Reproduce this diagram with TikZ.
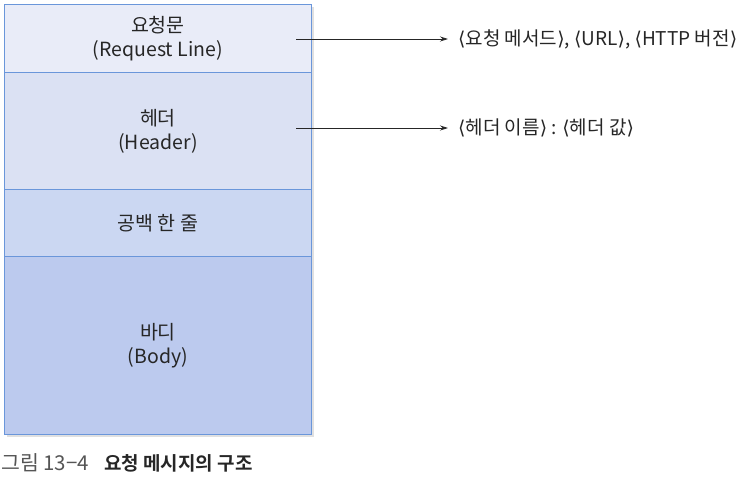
\documentclass[tikz,border=0pt]{standalone}
\usepackage{fontspec}
\setmainfont{Noto Sans CJK KR}
\newfontfamily\cjkbold{Noto Sans CJK KR Bold}
\newfontfamily\symf{DejaVu Sans}
\newcommand{\lab}{{\symf\char"27E8}}
\newcommand{\rab}{{\symf\char"27E9}}
\usetikzlibrary{arrows.meta}
\definecolor{rowA}{HTML}{E9ECF8}
\definecolor{rowB}{HTML}{DBE1F3}
\definecolor{rowC}{HTML}{CBD7F2}
\definecolor{rowD}{HTML}{BCCAEE}
\definecolor{edge}{HTML}{6A96DA}
\definecolor{capgray}{HTML}{555555}
\begin{document}
\begin{tikzpicture}[x=1pt,y=-1pt,
  rowbox/.style={draw=edge,line width=0.9pt,minimum width=307pt,inner sep=0pt,anchor=north west,align=center,font=\fontsize{19.5}{24}\selectfont,text=black!85},
  lbl/.style={anchor=west,inner sep=0pt,font=\fontsize{19}{22}\selectfont,text=black!85},
  conn/.style={-{Stealth[length=8pt,width=5pt]},line width=0.8pt,black!85}]
\useasboundingbox (0,0) rectangle (738,477);
\fill[black!12] (7,7) rectangle (314,437);
\node[rowbox,fill=rowA,minimum height=68pt] (r1) at (4,4) {요청문\\(Request Line)};
\node[rowbox,fill=rowB,minimum height=117pt] (r2) at (4,72) {헤더\\(Header)};
\node[rowbox,fill=rowC,minimum height=67pt] (r3) at (4,189) {공백 한 줄};
\node[rowbox,fill=rowD,minimum height=178pt] (r4) at (4,256) {바디\\(Body)};
\coordinate (s1) at (296,39);
\coordinate (s2) at (296,128);
\node[lbl] (l1) at (458,39) {\lab 요청 메서드\rab, \lab URL\rab, \lab HTTP 버전\rab};
\node[lbl] (l2) at (458,128) {\lab 헤더 이름\rab\ : \lab 헤더 값\rab};
\draw[conn] (s1) -- ([xshift=-10pt]l1.west);
\draw[conn] (s2) -- ([xshift=-10pt]l2.west);
\node[anchor=west,inner sep=0pt,font=\fontsize{20.5}{22}\selectfont,text=capgray] (cap) at (1,463) {그림 13−4};
\node[anchor=west,inner sep=0pt,font=\cjkbold\fontsize{19}{22}\selectfont,text=black!85] (capt) at (104,463) {요청 메시지의 구조};
\end{tikzpicture}
\end{document}
